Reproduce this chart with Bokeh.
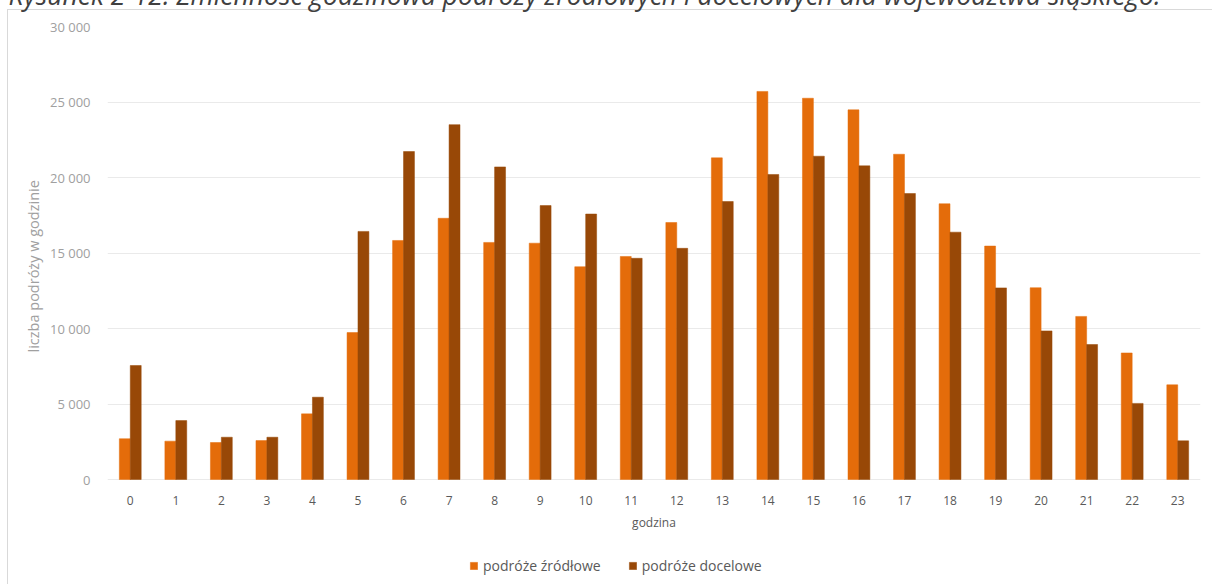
from bokeh.plotting import figure
from bokeh.models import (FactorRange, Range1d, FixedTicker, Legend, LegendItem,
                          Title, ColumnDataSource)
from bokeh.transform import dodge
from bokeh.embed import file_html
from bokeh.resources import INLINE

# ---- data ----
hours = [str(h) for h in range(24)]
podroze_zrodlowe = [2700, 2540, 2450, 2580, 4350, 9730, 15830, 17300, 15700, 15650,
                    14090, 14770, 17020, 21300, 25700, 25250, 24480, 21540, 18260,
                    15460, 12700, 10800, 8380, 6270]
podroze_docelowe = [7550, 3900, 2800, 2800, 5450, 16430, 21720, 23500, 20700, 18140,
                    17580, 14650, 15310, 18410, 20200, 21410, 20770, 18940, 16380,
                    12690, 9840, 8940, 5040, 2560]
y_ticks = [0, 5000, 10000, 15000, 20000, 25000, 30000]
y_tick_labels = ["0", "5 000", "10 000", "15 000", "20 000", "25 000", "30 000"]
series_names = ["podróże źródłowe", "podróże docelowe"]
y_title = "liczba podróży w godzinie"
x_title = "godzina"
title_text = ("Rysunek 2-12. Zmienność godzinowa podróży źródłowych i docelowych "
              "dla województwa śląskiego.")

FONT = "Open Sans"
ORANGE = "#E46C0A"
BROWN = "#984807"

# ---- layout (pixels, in window coordinates) ----
TOP = 40        # canvas rows hidden above the window (cut-off caption)
BOTTOM = 60     # canvas rows hidden below the window
FRAME_TOP = 26  # y of the 30 000 line
ZERO_Y = 479    # y of the 0 line
FRAME_BOTTOM = 584  # frame reaches the window bottom so the legend is inside it
px_per_unit = (ZERO_Y - FRAME_TOP) / y_ticks[-1]
y_start = -(FRAME_BOTTOM - ZERO_Y) / px_per_unit

src = ColumnDataSource(dict(hour=hours, z=podroze_zrodlowe, d=podroze_docelowe))

p = figure(width=1212, height=584 + TOP + BOTTOM,
           x_range=FactorRange(*hours, range_padding=0),
           y_range=Range1d(y_start, y_ticks[-1]),
           output_backend="svg", toolbar_location=None,
           min_border_left=107, min_border_right=12,
           min_border_top=FRAME_TOP + TOP,
           min_border_bottom=584 + BOTTOM - FRAME_BOTTOM,
           outline_line_color=None,
           border_fill_color=None, background_fill_color=None,
           styles={
               "margin-top": f"-{TOP}px",
               "margin-bottom": f"-{BOTTOM}px",
               "background": (f"linear-gradient(#d9d9d9,#d9d9d9) 7px {9 + TOP}px / 1px 100% no-repeat, "
                              f"linear-gradient(#d9d9d9,#d9d9d9) 7px {9 + TOP}px / 100% 1px no-repeat"),
           })

r1 = p.vbar(x=dodge('hour', -0.12, range=p.x_range), top='z', width=0.24,
            source=src, fill_color=ORANGE, line_color=ORANGE, line_width=0.5)
r2 = p.vbar(x=dodge('hour', 0.12, range=p.x_range), top='d', width=0.24,
            source=src, fill_color=BROWN, line_color=BROWN, line_width=0.5)

# y axis
yax = p.yaxis[0]
yax.ticker = FixedTicker(ticks=y_ticks)
yax.major_label_overrides = {t: l for t, l in zip(y_ticks, y_tick_labels)}
yax.axis_line_color = None
yax.major_tick_line_color = None
yax.minor_tick_line_color = None
yax.major_label_text_color = "#a0a0a0"
yax.major_label_text_font = FONT
yax.major_label_text_font_size = "13px"
yax.major_label_standoff = 11

# y axis title (side title, so it can sit where the original has it)
p.add_layout(Title(text=y_title, align="left", offset=232, standoff=7,
                   text_font=FONT, text_font_style="normal",
                   text_font_size="14.5px", text_color="#a0a0a0"), "left")

# x axis drawn at y = 0 inside the (taller) frame
xax = p.xaxis[0]
xax.fixed_location = 0
xax.axis_line_color = None
xax.major_tick_line_color = None
xax.minor_tick_line_color = None
xax.major_label_text_color = "#595959"
xax.major_label_text_font = FONT
xax.major_label_text_font_size = "12px"
xax.major_label_standoff = 10
xax.axis_label = x_title
xax.axis_label_text_font = FONT
xax.axis_label_text_font_style = "normal"
xax.axis_label_text_font_size = "12px"
xax.axis_label_text_color = "#595959"
xax.axis_label_standoff = 6

p.xgrid.grid_line_color = None
p.ygrid.grid_line_color = "#eaeaea"
p.ygrid.grid_line_width = 1

legend = Legend(items=[LegendItem(label=series_names[0], renderers=[r1]),
                       LegendItem(label=series_names[1], renderers=[r2])],
                orientation="horizontal",
                location=(469 - 107, FRAME_BOTTOM - 575),
                padding=0, margin=0, spacing=27,
                glyph_width=9, glyph_height=9, label_standoff=5,
                label_text_font=FONT, label_text_font_size="14px",
                label_text_color="#595959",
                border_line_color=None, background_fill_alpha=0)
p.add_layout(legend)

title = Title(text=title_text, align="left", offset=-99, standoff=28,
              text_font=FONT, text_font_style="italic", text_font_size="26.5px",
              text_color="#404040")
p.add_layout(title, "above")

open("out.html", "w").write(file_html(p, INLINE))
